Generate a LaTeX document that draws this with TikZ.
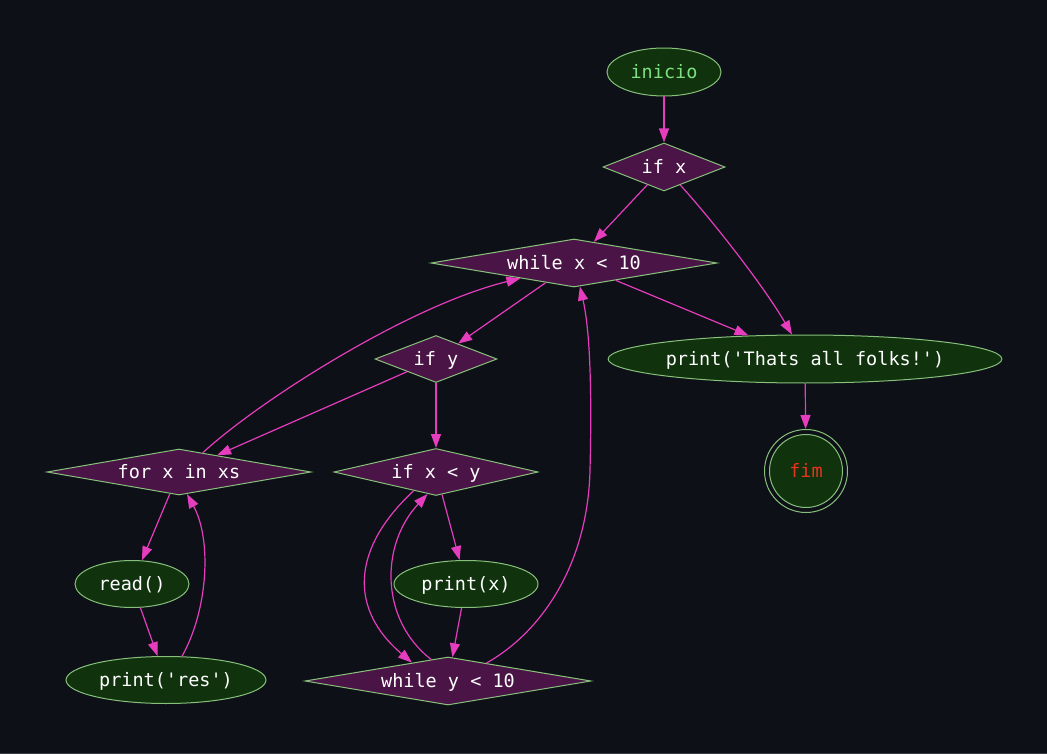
\documentclass[tikz,border=0pt]{standalone}
\usepackage{fontspec}
\setmonofont{DejaVu Sans Mono}
\usetikzlibrary{shapes.geometric,arrows.meta}
\definecolor{bgcol}{HTML}{0D1017}
\definecolor{diamfill}{HTML}{4B1446}
\definecolor{ellfill}{HTML}{10330E}
\definecolor{bordercol}{HTML}{86C07A}
\definecolor{edgecol}{HTML}{E63CBE}
\definecolor{startcol}{HTML}{7FE07F}
\definecolor{endcol}{HTML}{E8321E}
\definecolor{edgeline}{HTML}{3A3D44}
\tikzset{
  diam/.style={diamond, draw=bordercol, fill=diamfill, line width=1pt, inner sep=0pt, text=white},
  ell/.style={ellipse, draw=bordercol, fill=ellfill, line width=1pt, inner sep=0pt, text=white},
  flow/.style={draw=edgecol, line width=1.2pt, -{Triangle[length=14pt,width=10pt]}},
}
\begin{document}
\begin{tikzpicture}[x=1pt,y=-1pt, font=\ttfamily\fontsize{18.5}{22}\selectfont,
  every node/.append style={text height=15pt, text depth=2pt}]
\fill[bgcol] (0,0) rectangle (1047,754);
\useasboundingbox (0,0) rectangle (1047,754);
\draw[edgeline, line width=1pt] (0,753.5) -- (1047,753.5);

% nodes
\node[ell, text=startcol, minimum width=114pt, minimum height=48pt] (inicio) at (664,72) {inicio};
\node[diam, aspect=2.5, minimum width=122pt, minimum height=48pt] (ifx) at (664,167) {if x};
\node[diam, aspect=6, minimum width=286pt, minimum height=48pt] (whilex) at (574,263) {while x < 10};
\node[ell, minimum width=386pt, minimum height=48pt] (thats) at (805,359) {print('Thats all folks!')};
\node[circle, draw=bordercol, line width=1pt, minimum size=83pt, inner sep=0pt] (fim) at (806,471) {};
\node[circle, draw=bordercol, fill=ellfill, line width=1pt, minimum size=73pt, inner sep=0pt, text=endcol] (fimin) at (fim.center) {fim};
\node[diam, aspect=2.5, minimum width=122pt, minimum height=47pt] (ify) at (436,359) {if y};
\node[diam, aspect=5.7, minimum width=264pt, minimum height=46pt] (forx) at (179,472) {for x in xs};
\node[diam, aspect=4.3, minimum width=204pt, minimum height=47pt] (ifxy) at (436,472) {if x < y};
\node[ell, minimum width=114pt, minimum height=47pt] (read) at (132,584) {read()};
\node[ell, minimum width=144pt, minimum height=47pt] (printx) at (466,584) {print(x)};
\node[ell, minimum width=200pt, minimum height=47pt] (printres) at (166,680) {print('res')};
\node[diam, aspect=6, minimum width=286pt, minimum height=48pt] (whiley) at (448,681) {while y < 10};

% edges
\draw[flow] (inicio) -- (ifx);
\draw[flow] (ifx) -- (whilex);
\draw[flow] (ifx.-48) .. controls (705,212) and (760,280) .. (thats.118.6);
\draw[flow] (whilex) -- (thats);
\draw[flow] (thats) -- (fim);
\draw[flow] (whilex) -- (ify);
\draw[flow] (ify) -- (forx);
\draw[flow] (forx.39.6) .. controls (260,400) and (410,305) .. (whilex.196.6);
\draw[flow] (ify) -- (ifxy);
\draw[flow] (forx) -- (read);
\draw[flow] (read) -- (printres);
\draw[flow] (printres.56.9) .. controls (208,610) and (212,540) .. (forx.-70.2);
\draw[flow] (ifxy) -- (printx);
\draw[flow] (printx) -- (whiley);
\draw[flow] (ifxy.220) .. controls (350,550) and (350,610) .. (whiley.153);
\draw[flow] (whiley.128) .. controls (380,620) and (380,545) .. (ifxy.249);
\draw[flow] (whiley.25) .. controls (545,630) and (588,560) .. (590,470)
  .. controls (592,390) and (590,330) .. (whilex.-76);
\end{tikzpicture}
\end{document}
